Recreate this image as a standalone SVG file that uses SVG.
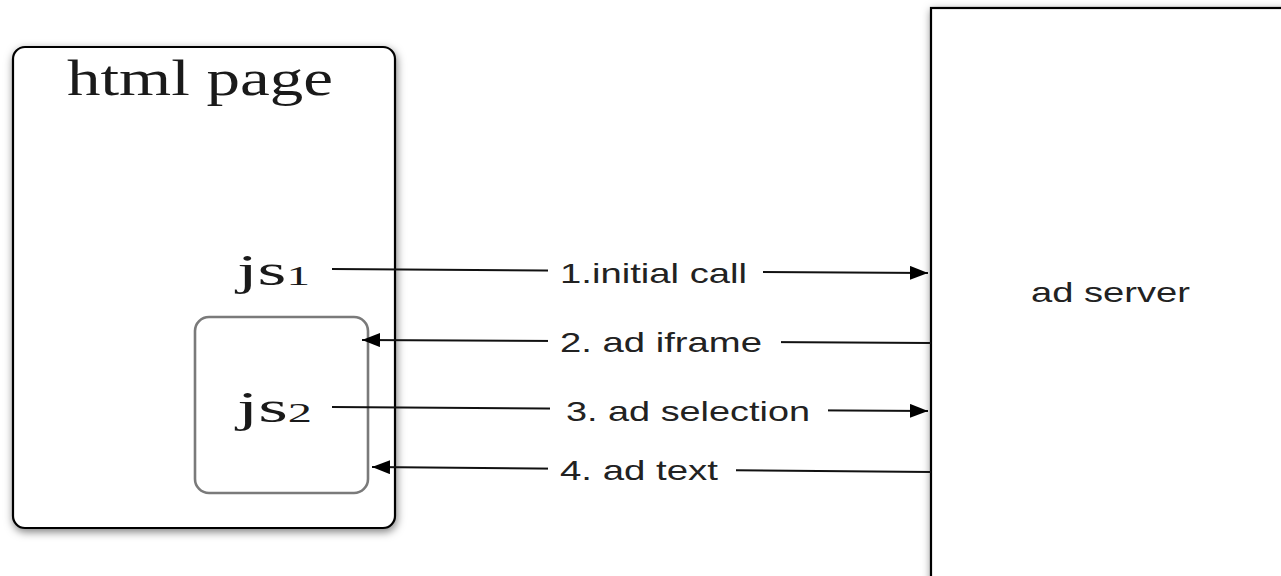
<svg xmlns="http://www.w3.org/2000/svg" width="1281" height="576" viewBox="0 0 1281 576">
<style>
.box{fill:#fff;stroke:#000;stroke-width:2.2}
.inner{fill:#fff;stroke:#7a7a7a;stroke-width:2.6}
.serif{font-family:"Liberation Serif","DejaVu Serif",serif;fill:#1a1a1a}
.sans{font-family:"Liberation Sans",Arial,sans-serif;fill:#222;font-size:28px}
.conn{fill:none;stroke:#111;stroke-width:2}
.lblbg{fill:#fff}
</style>
<defs>
<filter id="sh" x="-10%" y="-10%" width="120%" height="120%">
<feDropShadow dx="1" dy="3" stdDeviation="4.5" flood-color="#000" flood-opacity="0.5"/>
</filter>
<marker id="ah" viewBox="0 0 18 14" refX="18" refY="7" markerWidth="18" markerHeight="14" markerUnits="userSpaceOnUse" orient="auto">
<path d="M0,0 L18,7 L0,14 Z" fill="#000"/>
</marker>
</defs>
<rect width="1281" height="576" fill="#fff"/>
<g id="html-page">
<rect class="box" x="13" y="47" width="382" height="481" rx="12" filter="url(#sh)"/>
<text class="serif" x="67" y="95" font-size="50" textLength="266" lengthAdjust="spacingAndGlyphs">html page</text>
</g>
<g id="js1">
<text class="serif" x="237" y="285" font-size="44" textLength="73" lengthAdjust="spacingAndGlyphs">js<tspan font-size="28">1</tspan></text>
</g>
<g id="js2-box">
<rect class="inner" x="195" y="317" width="173" height="176" rx="14"/>
<text class="serif" x="237" y="422" font-size="44" textLength="75" lengthAdjust="spacingAndGlyphs">js<tspan font-size="28">2</tspan></text>
</g>
<g id="ad-server">
<rect class="box" x="931" y="8" width="360" height="580" filter="url(#sh)"/>
<text class="sans" x="1031" y="302" font-size="26" textLength="159" lengthAdjust="spacingAndGlyphs">ad server</text>
</g>
<g id="connectors">
<g id="c1">
<path class="conn" d="M332,269 L928,273" marker-end="url(#ah)"/>
<rect class="lblbg" x="548" y="255" width="215" height="34"/>
<text class="sans" x="560" y="283" textLength="187" lengthAdjust="spacingAndGlyphs">1.initial call</text>
</g>
<g id="c2">
<path class="conn" d="M931,343 L362,340" marker-end="url(#ah)"/>
<rect class="lblbg" x="548" y="324" width="233" height="34"/>
<text class="sans" x="560" y="352" textLength="202" lengthAdjust="spacingAndGlyphs">2. ad iframe</text>
</g>
<g id="c3">
<path class="conn" d="M332,407 L928,411" marker-end="url(#ah)"/>
<rect class="lblbg" x="550" y="393" width="278" height="34"/>
<text class="sans" x="566" y="421" textLength="244" lengthAdjust="spacingAndGlyphs">3. ad selection</text>
</g>
<g id="c4">
<path class="conn" d="M931,472 L372,467" marker-end="url(#ah)"/>
<rect class="lblbg" x="548" y="452" width="188" height="34"/>
<text class="sans" x="560" y="480" textLength="158" lengthAdjust="spacingAndGlyphs">4. ad text</text>
</g>
</g>
</svg>
